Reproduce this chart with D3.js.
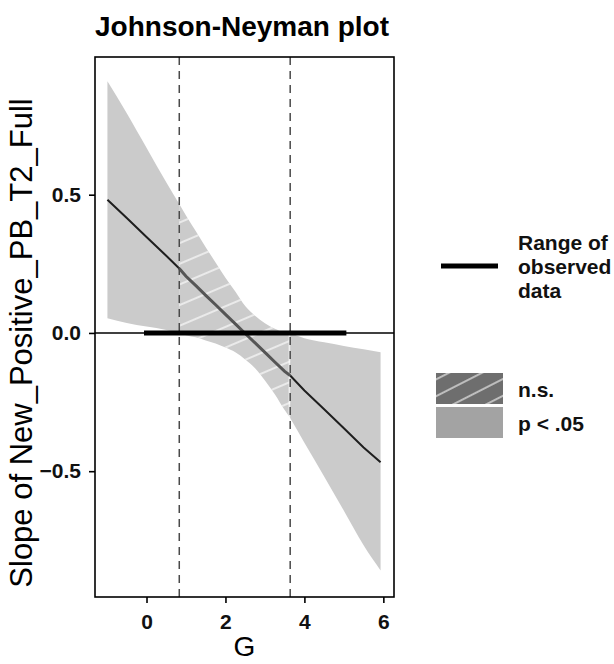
<!DOCTYPE html>
<html>
<head>
<meta charset="utf-8">
<script src="https://cdn.jsdelivr.net/npm/d3@7"></script>
<style>
  html, body { margin: 0; padding: 0; background: #fff; }
  svg { display: block; font-family: "Liberation Sans", Arial, sans-serif; }
</style>
</head>
<body>
<svg id="chart" width="614" height="664"></svg>
<script>
// ---- data ----
const moderatorX = [-0.99, -0.5, 0, 0.5, 0.83, 1.0, 1.25, 1.5, 1.75, 2.0, 2.25, 2.5, 2.75, 3.0, 3.25, 3.5, 3.64, 4.0, 4.5, 5.0, 5.5, 5.93];
const slopeEstimate = [0.482, 0.416, 0.347, 0.279, 0.233, 0.205, 0.171, 0.136, 0.102, 0.067, 0.033, -0.002, -0.036, -0.070, -0.105, -0.139, -0.154, -0.208, -0.276, -0.345, -0.414, -0.468];
const upperCI = [0.910, 0.795, 0.670, 0.545, 0.466, 0.425, 0.368, 0.310, 0.255, 0.200, 0.150, 0.097, 0.062, 0.035, 0.015, 0.002, 0.000, -0.019, -0.034, -0.047, -0.059, -0.070];
const lowerCI = [0.053, 0.036, 0.023, 0.011, 0.000, -0.008, -0.016, -0.027, -0.038, -0.053, -0.070, -0.096, -0.128, -0.172, -0.222, -0.279, -0.308, -0.397, -0.519, -0.643, -0.768, -0.859];
const jnBounds = [0.83, 3.64];
const observedRange = [0, 5];
const xTicks = [0, 2, 4, 6];
const yTicks = [-0.5, 0.0, 0.5];
const titleText = "Johnson-Neyman plot";
const xTitle = "G";
const yTitle = "Slope of New_Positive_PB_T2_Full";
const legendRangeLines = ["Range of", "observed", "data"];
const legendSigLabels = ["n.s.", "p < .05"];

// ---- layout ----
const svg = d3.select("#chart");
const P = { left: 95, right: 394, top: 57, bottom: 597 };
const x = d3.scaleLinear().domain([-1.305, 6.27]).range([P.left, P.right]);
const y = d3.scaleLinear().domain([-0.955, 0.998]).range([P.bottom, P.top]);

const rows = moderatorX.map((v, i) => ({ x: v, est: slopeEstimate[i], lo: lowerCI[i], hi: upperCI[i] }));
const seg1 = rows.filter(d => d.x <= jnBounds[0]);
const seg2 = rows.filter(d => d.x >= jnBounds[0] && d.x <= jnBounds[1]);
const seg3 = rows.filter(d => d.x >= jnBounds[1]);

const defs = svg.append("defs");
defs.append("clipPath").attr("id", "panelClip").append("rect")
  .attr("x", P.left).attr("y", P.top).attr("width", P.right - P.left).attr("height", P.bottom - P.top);
const pat = defs.append("pattern").attr("id", "hatch").attr("patternUnits", "userSpaceOnUse")
  .attr("width", 12).attr("height", 19).attr("patternTransform", "rotate(-23)");
pat.append("line").attr("x1", -2).attr("x2", 14).attr("y1", 9).attr("y2", 9)
  .attr("stroke", "#fff").attr("stroke-width", 1.2);
const pat2 = defs.append("pattern").attr("id", "hatchLegend").attr("patternUnits", "userSpaceOnUse")
  .attr("x", 0).attr("y", 4).attr("width", 12).attr("height", 15).attr("patternTransform", "rotate(-27)");
pat2.append("line").attr("x1", -2).attr("x2", 14).attr("y1", 7).attr("y2", 7)
  .attr("stroke", "#fff").attr("stroke-width", 1.1);

const g = svg.append("g").attr("clip-path", "url(#panelClip)");
const area = d3.area().x(d => x(d.x)).y0(d => y(d.lo)).y1(d => y(d.hi)).curve(d3.curveMonotoneX);
const line = d3.line().x(d => x(d.x)).y(d => y(d.est));

[seg1, seg2, seg3].forEach(s => g.append("path").attr("d", area(s)).attr("fill", "#cbcbcb"));
g.append("path").attr("d", area(seg2)).attr("fill", "url(#hatch)");
// thin white seam at the JN boundary like the reference
g.append("line").attr("x1", x(jnBounds[1]) - 1).attr("x2", x(jnBounds[1]) - 1)
  .attr("y1", y(0)).attr("y2", y(lowerCI[moderatorX.indexOf(jnBounds[1])]))
  .attr("stroke", "#fff").attr("stroke-width", 1);

g.append("path").attr("d", line(seg1)).attr("fill", "none").attr("stroke", "#1e1e1e").attr("stroke-width", 2);
g.append("path").attr("d", line(seg3)).attr("fill", "none").attr("stroke", "#1e1e1e").attr("stroke-width", 2);
g.append("path").attr("d", line(seg2)).attr("fill", "none").attr("stroke", "#555").attr("stroke-width", 3);

jnBounds.forEach(b => g.append("line").attr("x1", x(b)).attr("x2", x(b)).attr("y1", P.top).attr("y2", P.bottom)
  .attr("stroke", "#4a4a4a").attr("stroke-width", 1.5).attr("stroke-dasharray", "8,6"));

g.append("line").attr("x1", P.left).attr("x2", P.right).attr("y1", y(0)).attr("y2", y(0))
  .attr("stroke", "#000").attr("stroke-width", 1.5);
g.append("line").attr("x1", x(observedRange[0])).attr("x2", x(observedRange[1])).attr("y1", y(0)).attr("y2", y(0))
  .attr("stroke", "#000").attr("stroke-width", 5).attr("stroke-linecap", "square");

// panel border
svg.append("rect").attr("x", P.left).attr("y", P.top).attr("width", P.right - P.left).attr("height", P.bottom - P.top)
  .attr("fill", "none").attr("stroke", "#000").attr("stroke-width", 1.6);

// axes
const xAxis = svg.append("g").attr("transform", `translate(0,${P.bottom})`)
  .call(d3.axisBottom(x).tickValues(xTicks).tickSize(6).tickPadding(6).tickFormat(d3.format("d")));
const yAxis = svg.append("g").attr("transform", `translate(${P.left},0)`)
  .call(d3.axisLeft(y).tickValues(yTicks).tickSize(6).tickPadding(8).tickFormat(d3.format(".1f")));
[xAxis, yAxis].forEach(a => {
  a.select(".domain").remove();
  a.selectAll(".tick line").attr("stroke", "#000").attr("stroke-width", 1.6);
  a.selectAll(".tick text").attr("fill", "#111").attr("font-size", 21).attr("font-weight", "bold")
    .attr("font-family", "'Liberation Sans', Arial, sans-serif");
});
xAxis.selectAll(".tick text").attr("dy", "0.95em");

// titles
svg.append("text").attr("x", P.left).attr("y", 36).text(titleText)
  .attr("font-size", 28).attr("font-weight", "bold").attr("fill", "#000");
svg.append("text").attr("x", (P.left + P.right) / 2).attr("y", 656).attr("text-anchor", "middle")
  .text(xTitle).attr("font-size", 28).attr("fill", "#000");
svg.append("text").attr("transform", `translate(32,${(P.top + P.bottom) / 2 + 16}) rotate(-90)`)
  .attr("text-anchor", "middle").text(yTitle).attr("font-size", 31).attr("fill", "#000");

// legend: range of observed data
const lg = svg.append("g");
lg.append("line").attr("x1", 441).attr("x2", 498).attr("y1", 266).attr("y2", 266)
  .attr("stroke", "#000").attr("stroke-width", 5);
legendRangeLines.forEach((t, i) => lg.append("text").attr("x", 518).attr("y", 250 + i * 24).text(t)
  .attr("font-size", 21).attr("font-weight", "bold").attr("fill", "#111"));

// legend: significance
const boxX = 436, boxW = 67, boxH = 31;
const boxY = [373, 407];
lg.append("rect").attr("x", boxX).attr("y", boxY[0]).attr("width", boxW).attr("height", boxH).attr("fill", "#6e6e6e");
lg.append("rect").attr("x", boxX).attr("y", boxY[0]).attr("width", boxW).attr("height", boxH).attr("fill", "url(#hatchLegend)");
lg.append("rect").attr("x", boxX).attr("y", boxY[1]).attr("width", boxW).attr("height", boxH).attr("fill", "#a3a3a3");
legendSigLabels.forEach((t, i) => lg.append("text").attr("x", 518).attr("y", boxY[i] + 24).text(t)
  .attr("font-size", 21).attr("font-weight", "bold").attr("fill", "#111"));
</script>
</body>
</html>
